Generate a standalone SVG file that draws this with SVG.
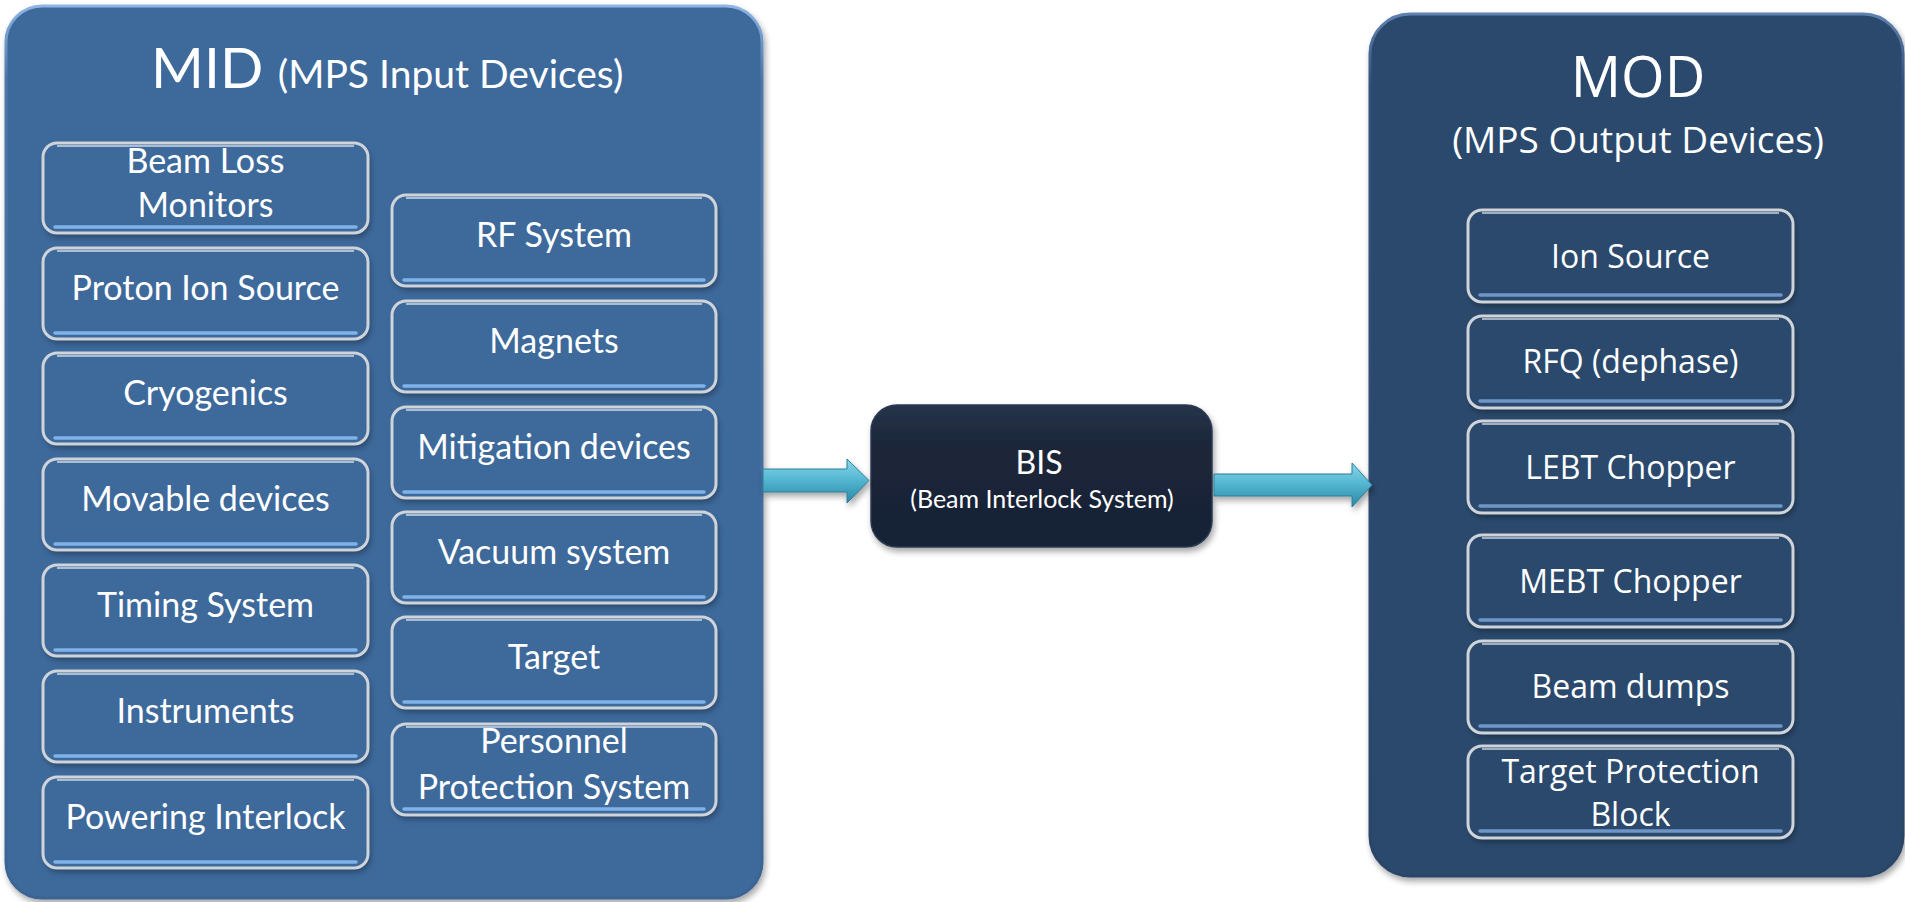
<svg xmlns="http://www.w3.org/2000/svg" width="1905" height="902" viewBox="0 0 1905 902">
  <defs>
    <style>
      .lato { font-family: Lato, "Liberation Sans", sans-serif; fill: #ffffff; }
      .open { font-family: "Open Sans", "Liberation Sans", sans-serif; fill: #ffffff; }
      .item { font-size: 34px; text-anchor: middle; }
      .oitem { font-size: 32px; text-anchor: middle; }
      .rim { fill: none; stroke: #cfd3da; stroke-width: 3; }
      .gloss { fill: none; stroke: #ffffff; stroke-width: 1.5; stroke-opacity: 0.75; }
      .stripe { stroke: #80b2ea; stroke-width: 3.5; stroke-linecap: round; }
      .ostripe { stroke: #6f96c6; stroke-width: 3.5; stroke-linecap: round; }
      .arrow { fill: url(#arrowFill); stroke: #2a7f9c; stroke-width: 1; }
    </style>
    <filter id="shadow" x="-10%" y="-10%" width="125%" height="130%">
      <feGaussianBlur in="SourceAlpha" stdDeviation="3"/>
      <feOffset dx="2" dy="4" result="b"/>
      <feComponentTransfer><feFuncA type="linear" slope="0.35"/></feComponentTransfer>
      <feMerge><feMergeNode/><feMergeNode in="SourceGraphic"/></feMerge>
    </filter>
    <linearGradient id="arrowFill" x1="0" y1="0" x2="0" y2="1">
      <stop offset="0" stop-color="#8ad6ea"/>
      <stop offset="0.45" stop-color="#56b8d2"/>
      <stop offset="1" stop-color="#2a88a6"/>
    </linearGradient>
    <linearGradient id="bisFill" x1="0" y1="0" x2="0" y2="1">
      <stop offset="0" stop-color="#26334a"/>
      <stop offset="0.3" stop-color="#1b2639"/>
      <stop offset="1" stop-color="#182234"/>
    </linearGradient>
    <linearGradient id="midEdge" x1="0" y1="0" x2="0" y2="1">
      <stop offset="0" stop-color="#8fb5e4"/>
      <stop offset="0.08" stop-color="#4d78aa"/>
      <stop offset="1" stop-color="#3a6394"/>
    </linearGradient>
    <linearGradient id="modEdge" x1="0" y1="0" x2="0" y2="1">
      <stop offset="0" stop-color="#5f82b0"/>
      <stop offset="0.08" stop-color="#33517a"/>
      <stop offset="1" stop-color="#2a4567"/>
    </linearGradient>
  </defs>

  <rect width="1905" height="902" fill="#ffffff"/>

  <!-- MID container -->
  <g id="mid">
    <rect x="6" y="6" width="756" height="892" rx="36" fill="#3e699b" stroke="url(#midEdge)" stroke-width="3" filter="url(#shadow)"/>
    <text class="lato" x="151" y="88" font-size="57">MID <tspan font-size="39">(MPS Input Devices)</tspan></text>
  </g>

  <!-- MOD container -->
  <g id="mod">
    <rect x="1370" y="14" width="533" height="862" rx="40" fill="#2c486c" stroke="url(#modEdge)" stroke-width="3" filter="url(#shadow)"/>
    <text class="open" x="1638" y="97" font-size="56" text-anchor="middle">MOD</text>
    <text class="open" x="1638" y="153" font-size="37" text-anchor="middle">(MPS Output Devices)</text>
  </g>

  <!-- MID left column -->
  <g id="mid-blm" transform="translate(43,143)">
    <rect width="325" height="90" rx="14" fill="#3e699b" filter="url(#shadow)"/>
    <rect width="325" height="90" rx="14" class="rim"/>
    <path class="gloss" d="M14,3 H311"/>
    <line class="stripe" x1="12" y1="84" x2="313" y2="84"/>
    <text class="lato item" x="162.5" y="30">Beam Loss</text>
    <text class="lato item" x="162.5" y="74">Monitors</text>
  </g>
  <g id="mid-proton" transform="translate(43,248)">
    <rect width="325" height="91" rx="14" fill="#3e699b" filter="url(#shadow)"/>
    <rect width="325" height="91" rx="14" class="rim"/>
    <path class="gloss" d="M14,3 H311"/>
    <line class="stripe" x1="12" y1="85" x2="313" y2="85"/>
    <text class="lato item" x="162.5" y="52">Proton Ion Source</text>
  </g>
  <g id="mid-cryo" transform="translate(43,353)">
    <rect width="325" height="91" rx="14" fill="#3e699b" filter="url(#shadow)"/>
    <rect width="325" height="91" rx="14" class="rim"/>
    <path class="gloss" d="M14,3 H311"/>
    <line class="stripe" x1="12" y1="85" x2="313" y2="85"/>
    <text class="lato item" x="162.5" y="52">Cryogenics</text>
  </g>
  <g id="mid-movable" transform="translate(43,459)">
    <rect width="325" height="91" rx="14" fill="#3e699b" filter="url(#shadow)"/>
    <rect width="325" height="91" rx="14" class="rim"/>
    <path class="gloss" d="M14,3 H311"/>
    <line class="stripe" x1="12" y1="85" x2="313" y2="85"/>
    <text class="lato item" x="162.5" y="52">Movable devices</text>
  </g>
  <g id="mid-timing" transform="translate(43,565)">
    <rect width="325" height="91" rx="14" fill="#3e699b" filter="url(#shadow)"/>
    <rect width="325" height="91" rx="14" class="rim"/>
    <path class="gloss" d="M14,3 H311"/>
    <line class="stripe" x1="12" y1="85" x2="313" y2="85"/>
    <text class="lato item" x="162.5" y="52">Timing System</text>
  </g>
  <g id="mid-instruments" transform="translate(43,671)">
    <rect width="325" height="91" rx="14" fill="#3e699b" filter="url(#shadow)"/>
    <rect width="325" height="91" rx="14" class="rim"/>
    <path class="gloss" d="M14,3 H311"/>
    <line class="stripe" x1="12" y1="85" x2="313" y2="85"/>
    <text class="lato item" x="162.5" y="52">Instruments</text>
  </g>
  <g id="mid-powering" transform="translate(43,777)">
    <rect width="325" height="91" rx="14" fill="#3e699b" filter="url(#shadow)"/>
    <rect width="325" height="91" rx="14" class="rim"/>
    <path class="gloss" d="M14,3 H311"/>
    <line class="stripe" x1="12" y1="85" x2="313" y2="85"/>
    <text class="lato item" x="162.5" y="52">Powering Interlock</text>
  </g>

  <!-- MID right column -->
  <g id="mid-rf" transform="translate(392,195)">
    <rect width="324" height="91" rx="14" fill="#3e699b" filter="url(#shadow)"/>
    <rect width="324" height="91" rx="14" class="rim"/>
    <path class="gloss" d="M14,3 H310"/>
    <line class="stripe" x1="12" y1="85" x2="312" y2="85"/>
    <text class="lato item" x="162" y="52">RF System</text>
  </g>
  <g id="mid-magnets" transform="translate(392,301)">
    <rect width="324" height="91" rx="14" fill="#3e699b" filter="url(#shadow)"/>
    <rect width="324" height="91" rx="14" class="rim"/>
    <path class="gloss" d="M14,3 H310"/>
    <line class="stripe" x1="12" y1="85" x2="312" y2="85"/>
    <text class="lato item" x="162" y="52">Magnets</text>
  </g>
  <g id="mid-mitigation" transform="translate(392,407)">
    <rect width="324" height="91" rx="14" fill="#3e699b" filter="url(#shadow)"/>
    <rect width="324" height="91" rx="14" class="rim"/>
    <path class="gloss" d="M14,3 H310"/>
    <line class="stripe" x1="12" y1="85" x2="312" y2="85"/>
    <text class="lato item" x="162" y="52">Mitigation devices</text>
  </g>
  <g id="mid-vacuum" transform="translate(392,512)">
    <rect width="324" height="91" rx="14" fill="#3e699b" filter="url(#shadow)"/>
    <rect width="324" height="91" rx="14" class="rim"/>
    <path class="gloss" d="M14,3 H310"/>
    <line class="stripe" x1="12" y1="85" x2="312" y2="85"/>
    <text class="lato item" x="162" y="52">Vacuum system</text>
  </g>
  <g id="mid-target" transform="translate(392,617)">
    <rect width="324" height="91" rx="14" fill="#3e699b" filter="url(#shadow)"/>
    <rect width="324" height="91" rx="14" class="rim"/>
    <path class="gloss" d="M14,3 H310"/>
    <line class="stripe" x1="12" y1="85" x2="312" y2="85"/>
    <text class="lato item" x="162" y="52">Target</text>
  </g>
  <g id="mid-pps" transform="translate(392,724)">
    <rect width="324" height="91" rx="14" fill="#3e699b" filter="url(#shadow)"/>
    <rect width="324" height="91" rx="14" class="rim"/>
    <path class="gloss" d="M14,3 H310"/>
    <line class="stripe" x1="12" y1="85" x2="312" y2="85"/>
    <text class="lato item" x="162" y="29">Personnel</text>
    <text class="lato item" x="162" y="75">Protection System</text>
  </g>

  <!-- BIS -->
  <g id="bis">
    <rect x="871" y="405" width="341" height="142" rx="26" fill="url(#bisFill)" stroke="#2c3a52" stroke-width="1.5" filter="url(#shadow)"/>
    <text class="lato" x="1039" y="474" font-size="32" text-anchor="middle">BIS</text>
    <text class="lato" x="1042" y="508" font-size="25" text-anchor="middle">(Beam Interlock System)</text>
  </g>

  <!-- MOD items -->
  <g id="mod-ion" transform="translate(1468,210)">
    <rect width="325" height="92" rx="14" fill="#2c486c" filter="url(#shadow)"/>
    <rect width="325" height="92" rx="14" class="rim"/>
    <path class="gloss" d="M14,3 H311"/>
    <line class="ostripe" x1="12" y1="85" x2="313" y2="85"/>
    <text class="open oitem" x="162.5" y="58">Ion Source</text>
  </g>
  <g id="mod-rfq" transform="translate(1468,316)">
    <rect width="325" height="92" rx="14" fill="#2c486c" filter="url(#shadow)"/>
    <rect width="325" height="92" rx="14" class="rim"/>
    <path class="gloss" d="M14,3 H311"/>
    <line class="ostripe" x1="12" y1="85" x2="313" y2="85"/>
    <text class="open oitem" x="162.5" y="57">RFQ (dephase)</text>
  </g>
  <g id="mod-lebt" transform="translate(1468,421)">
    <rect width="325" height="92" rx="14" fill="#2c486c" filter="url(#shadow)"/>
    <rect width="325" height="92" rx="14" class="rim"/>
    <path class="gloss" d="M14,3 H311"/>
    <line class="ostripe" x1="12" y1="85" x2="313" y2="85"/>
    <text class="open oitem" x="162.5" y="58">LEBT Chopper</text>
  </g>
  <g id="mod-mebt" transform="translate(1468,535)">
    <rect width="325" height="92" rx="14" fill="#2c486c" filter="url(#shadow)"/>
    <rect width="325" height="92" rx="14" class="rim"/>
    <path class="gloss" d="M14,3 H311"/>
    <line class="ostripe" x1="12" y1="85" x2="313" y2="85"/>
    <text class="open oitem" x="162.5" y="58">MEBT Chopper</text>
  </g>
  <g id="mod-dumps" transform="translate(1468,641)">
    <rect width="325" height="92" rx="14" fill="#2c486c" filter="url(#shadow)"/>
    <rect width="325" height="92" rx="14" class="rim"/>
    <path class="gloss" d="M14,3 H311"/>
    <line class="ostripe" x1="12" y1="85" x2="313" y2="85"/>
    <text class="open oitem" x="162.5" y="57">Beam dumps</text>
  </g>
  <g id="mod-tpb" transform="translate(1468,746)">
    <rect width="325" height="92" rx="14" fill="#2c486c" filter="url(#shadow)"/>
    <rect width="325" height="92" rx="14" class="rim"/>
    <path class="gloss" d="M14,3 H311"/>
    <line class="ostripe" x1="12" y1="85" x2="313" y2="85"/>
    <text class="open oitem" x="162.5" y="37">Target Protection</text>
    <text class="open oitem" x="162.5" y="80">Block</text>
  </g>

  <!-- connectors -->
  <g id="connectors">
    <path class="arrow" d="M763,469 H847 V459 L869,480.5 L847,503 V492 H763 Z" filter="url(#shadow)"/>
    <path class="arrow" d="M1214,474 H1352 V463 L1372,485 L1352,507 V496 H1214 Z" filter="url(#shadow)"/>
  </g>
</svg>
